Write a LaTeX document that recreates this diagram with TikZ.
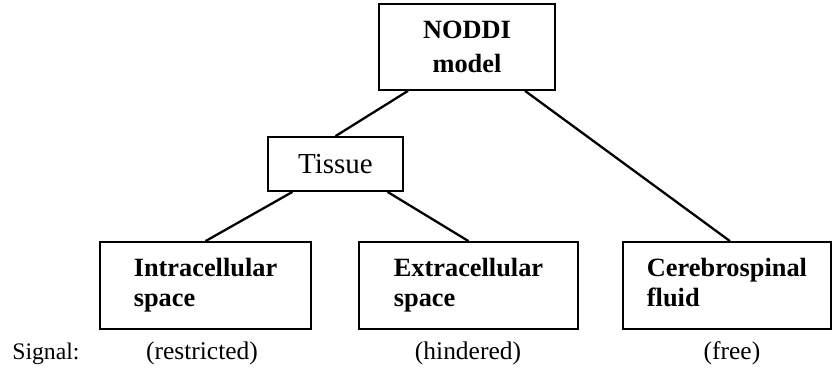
\documentclass[tikz,border=0pt]{standalone}
\usepackage{fontspec}
\setmainfont{Liberation Serif}
\usetikzlibrary{positioning}

\begin{document}
\begin{tikzpicture}[x=0.02cm, y=0.02cm,
    box/.style={draw, line width=1pt, rectangle, inner sep=0pt},
    comp/.style={box, minimum height=1.74cm, align=left,
      font=\fontsize{15}{17}\selectfont\bfseries},
    link/.style={line width=1.3pt},
    sig/.style={anchor=base, font=\fontsize{14.5}{17}\selectfont}]
  \useasboundingbox (0,0) rectangle (832,371);

  % Top of the tree
  \node[box, minimum width=3.52cm, minimum height=1.72cm, align=center,
    font=\fontsize{15}{19}\selectfont\bfseries] (noddi) at (467,324) {NODDI\\model};
  \node[box, minimum width=2.7cm, minimum height=1.08cm,
    font=\fontsize{16.5}{19}\selectfont] (tissue) at (335.5,207) {Tissue};

  % Compartments (struts keep the lines at the same height in every box)
  \node[comp, minimum width=4.22cm] (intra) at (205.5,85.5) {\strut Intracellular\\\strut space};
  \node[comp, minimum width=4.38cm] (extra) at (468.5,85.5) {\strut Extracellular\\\strut space};
  \node[comp, minimum width=4.16cm] (csf) at (727,85.5) {\strut Cerebrospinal\\\strut fluid};

  % Branches
  \draw[link] ([xshift=-1.18cm]noddi.south) -- (tissue.north);
  \draw[link] ([xshift=1.16cm]noddi.south) -- ([xshift=0.06cm]csf.north);
  \draw[link] ([xshift=-0.86cm]tissue.south) -- (intra.north);
  \draw[link] ([xshift=1.04cm]tissue.south) -- (extra.north);

  % Signal row
  \node[sig, anchor=base west, inner sep=0pt, font=\fontsize{13.5}{17}\selectfont]
    (siglbl) at (12,11) {Signal:};
  \node[sig] (sigintra) at (202,11) {(restricted)};
  \node[sig] (sigextra) at (468,11) {(hindered)};
  \node[sig] (sigcsf) at (732,11) {(free)};
\end{tikzpicture}
\end{document}
